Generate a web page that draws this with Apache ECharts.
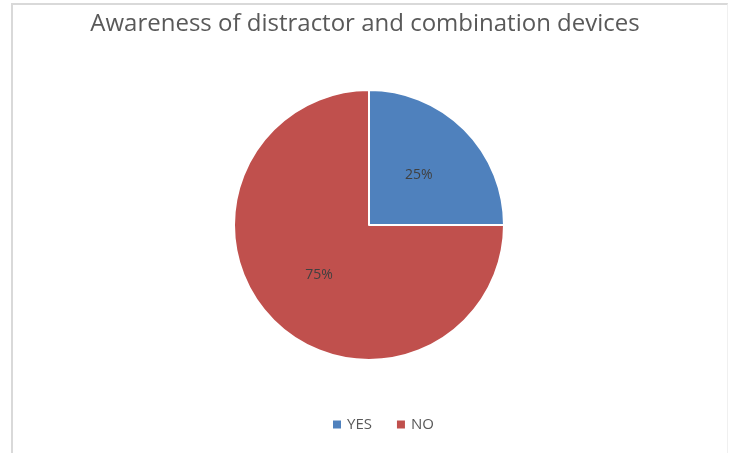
<!DOCTYPE html>
<html>
<head>
<meta charset="utf-8">
<script src="https://cdn.jsdelivr.net/npm/echarts@6/dist/echarts.min.js"></script>
<style>
html,body{margin:0;padding:0;background:#fff;}
#frame{position:absolute;left:11px;top:3px;width:714px;height:452px;border-left:2px solid #d9d9d9;border-top:2px solid #d9d9d9;border-right:1px solid #f0f0f0;}
#chart{position:absolute;left:0;top:0;width:730px;height:453px;}
</style>
</head>
<body>
<div id="frame"></div>
<div id="chart"></div>
<script>
const titleText = 'Awareness of distractor and combination devices';
const categories = ['YES', 'NO'];
const values = [25, 75];
const colors = ['#4F81BD', '#C0504D'];

const chart = echarts.init(document.getElementById('chart'), null, {renderer: 'canvas'});
chart.setOption({
  backgroundColor: 'transparent',
  animation: false,
  title: {
    text: titleText,
    left: 'center',
    top: 7,
    textStyle: {fontFamily: 'Open Sans', fontSize: 24, fontWeight: 'normal', color: '#595959'}
  },
  legend: {
    data: categories,
    bottom: 16,
    left: 326,
    icon: 'rect',
    itemWidth: 10,
    itemHeight: 10,
    itemGap: 23,
    textStyle: {fontFamily: 'Open Sans', fontSize: 15, color: '#595959'}
  },
  series: [{
    type: 'pie',
    center: [369, 225],
    radius: [0, 135],
    startAngle: 90,
    clockwise: true,
    data: categories.map((c, i) => ({name: c, value: values[i], itemStyle: {color: colors[i]}})),
    itemStyle: {borderColor: '#fff', borderWidth: 2},
    label: {
      position: 'inside',
      formatter: p => p.value + '%',
      fontFamily: 'Open Sans',
      fontSize: 14,
      color: '#404040'
    },
    labelLine: {show: false},
    emphasis: {disabled: true}
  }]
});
</script>
</body>
</html>
